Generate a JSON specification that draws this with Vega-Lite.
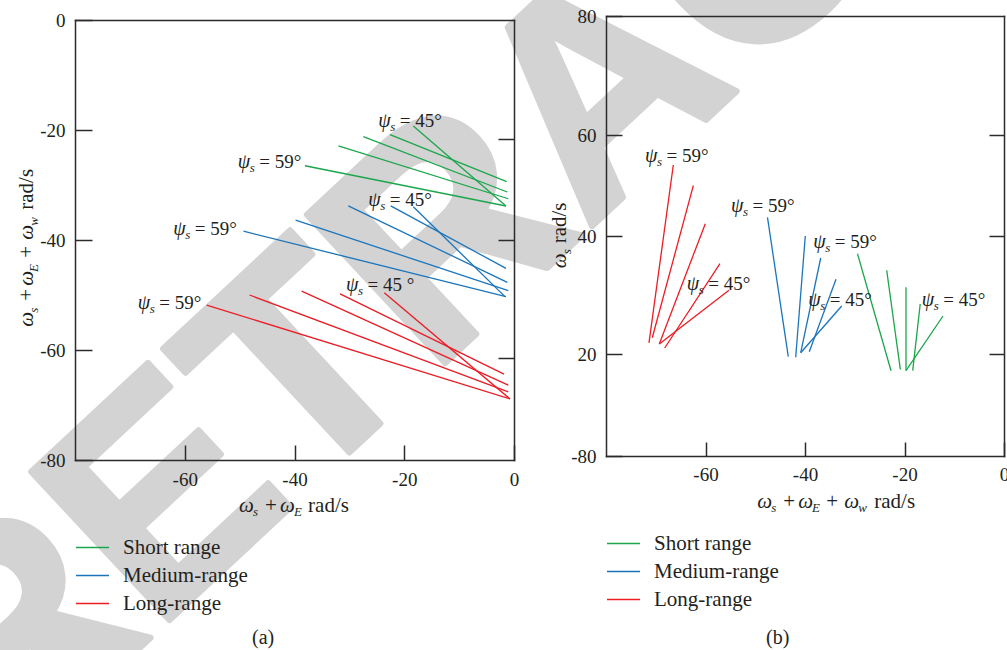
{
  "$schema": "https://vega.github.io/schema/vega-lite/v6.json",
  "autosize": {"type": "none"},
  "padding": {"left": 75, "top": 20, "right": 932, "bottom": 630},
  "background": "#ffffff",
  "bounds": "flush",
  "spacing": 92,
  "config": {
    "view": {"stroke": null},
    "text": {"font": "Liberation Serif", "fontSize": 20, "color": "#231f20", "align": "left", "baseline": "alphabetic"},
    "axis": {
      "zindex": 1, "grid": false,
      "labelFont": "Liberation Serif", "labelFontSize": 19, "labelColor": "#231f20",
      "labelFlush": false, "labelOverlap": false, "labelBound": false,
      "domainColor": "#2b2b2b", "domainWidth": 1.5, "domainCap": "square",
      "tickColor": "#2b2b2b", "tickWidth": 1.5
    }
  },
  "datasets": {
    "one": [{}],
    "linesA": [
      {"range": "Short range", "line": "S45", "x": -18.35, "y": -19.27},
      {"range": "Short range", "line": "S45", "x": -1.46, "y": -33.82},
      {"range": "Short range", "line": "S48", "x": -22.6, "y": -20.85},
      {"range": "Short range", "line": "S48", "x": -1.33, "y": -29.4},
      {"range": "Short range", "line": "S52", "x": -27.46, "y": -21.2},
      {"range": "Short range", "line": "S52", "x": -1.22, "y": -31.27},
      {"range": "Short range", "line": "S55", "x": -32.0, "y": -22.9},
      {"range": "Short range", "line": "S55", "x": -1.04, "y": -32.5},
      {"range": "Short range", "line": "S59", "x": -38.1, "y": -26.5},
      {"range": "Short range", "line": "S59", "x": -1.46, "y": -33.82},
      {"range": "Medium-range", "line": "M45", "x": -18.35, "y": -33.95},
      {"range": "Medium-range", "line": "M45", "x": -1.64, "y": -50.3},
      {"range": "Medium-range", "line": "M48", "x": -22.47, "y": -33.8},
      {"range": "Medium-range", "line": "M48", "x": -1.46, "y": -45.15},
      {"range": "Medium-range", "line": "M52", "x": -30.2, "y": -33.8},
      {"range": "Medium-range", "line": "M52", "x": -1.22, "y": -47.7},
      {"range": "Medium-range", "line": "M55", "x": -39.8, "y": -36.4},
      {"range": "Medium-range", "line": "M55", "x": -1.04, "y": -49.2},
      {"range": "Medium-range", "line": "M59", "x": -49.3, "y": -38.4},
      {"range": "Medium-range", "line": "M59", "x": -1.46, "y": -50.3},
      {"range": "Long-range", "line": "L45", "x": -23.64, "y": -49.6},
      {"range": "Long-range", "line": "L45", "x": -0.73, "y": -68.9},
      {"range": "Long-range", "line": "L48", "x": -31.7, "y": -49.8},
      {"range": "Long-range", "line": "L48", "x": -1.82, "y": -64.4},
      {"range": "Long-range", "line": "L52", "x": -38.7, "y": -49.3},
      {"range": "Long-range", "line": "L52", "x": -1.04, "y": -66.4},
      {"range": "Long-range", "line": "L55", "x": -48.2, "y": -50.0},
      {"range": "Long-range", "line": "L55", "x": -1.04, "y": -67.6},
      {"range": "Long-range", "line": "L59", "x": -56.0, "y": -51.85},
      {"range": "Long-range", "line": "L59", "x": -0.73, "y": -68.9}
    ],
    "linesB": [
      {"range": "Long-range", "line": "L59", "x": -66.47, "y": 54.06},
      {"range": "Long-range", "line": "L59", "x": -71.36, "y": 21.9},
      {"range": "Long-range", "line": "L55", "x": -62.45, "y": 49.96},
      {"range": "Long-range", "line": "L55", "x": -70.7, "y": 22.76},
      {"range": "Long-range", "line": "L52", "x": -60.04, "y": 42.44},
      {"range": "Long-range", "line": "L52", "x": -69.29, "y": 21.69},
      {"range": "Long-range", "line": "L48", "x": -57.09, "y": 35.31},
      {"range": "Long-range", "line": "L48", "x": -68.2, "y": 21.02},
      {"range": "Long-range", "line": "L45", "x": -55.28, "y": 30.8},
      {"range": "Long-range", "line": "L45", "x": -69.29, "y": 21.69},
      {"range": "Medium-range", "line": "M59", "x": -47.54, "y": 43.7},
      {"range": "Medium-range", "line": "M59", "x": -43.36, "y": 17.35},
      {"range": "Medium-range", "line": "M55", "x": -39.94, "y": 40.0},
      {"range": "Medium-range", "line": "M55", "x": -41.87, "y": 16.76},
      {"range": "Medium-range", "line": "M52", "x": -36.84, "y": 36.27},
      {"range": "Medium-range", "line": "M52", "x": -40.86, "y": 20.22},
      {"range": "Medium-range", "line": "M48", "x": -33.77, "y": 32.66},
      {"range": "Medium-range", "line": "M48", "x": -39.14, "y": 20.39},
      {"range": "Medium-range", "line": "M45", "x": -32.62, "y": 28.14},
      {"range": "Medium-range", "line": "M45", "x": -40.86, "y": 20.22},
      {"range": "Short range", "line": "S59", "x": -29.45, "y": 37.0},
      {"range": "Short range", "line": "S59", "x": -22.71, "y": 3.63},
      {"range": "Short range", "line": "S55", "x": -23.58, "y": 34.19},
      {"range": "Short range", "line": "S55", "x": -20.84, "y": 5.0},
      {"range": "Short range", "line": "S52", "x": -19.7, "y": 31.3},
      {"range": "Short range", "line": "S52", "x": -19.7, "y": 3.63},
      {"range": "Short range", "line": "S48", "x": -16.84, "y": 28.47},
      {"range": "Short range", "line": "S48", "x": -18.35, "y": 3.63},
      {"range": "Short range", "line": "S45", "x": -12.26, "y": 26.44},
      {"range": "Short range", "line": "S45", "x": -19.7, "y": 3.63}
    ],
    "annA": [
      {"x": -24.73, "y": -19.45, "label": "= 45°"},
      {"x": -50.35, "y": -26.96, "label": "= 59°"},
      {"x": -26.55, "y": -33.82, "label": "= 45°"},
      {"x": -62.09, "y": -39.09, "label": "= 59°"},
      {"x": -30.62, "y": -49.36, "label": "= 45 °"},
      {"x": -68.57, "y": -52.6, "label": "= 59°"}
    ],
    "annB": [
      {"x": -72.16, "y": 54.71, "label": "= 59°"},
      {"x": -63.78, "y": 30.85, "label": "= 45°"},
      {"x": -54.87, "y": 44.81, "label": "= 59°"},
      {"x": -39.34, "y": 28.14, "label": "= 45°"},
      {"x": -38.33, "y": 37.92, "label": "= 59°"},
      {"x": -16.54, "y": 28.14, "label": "= 45°"}
    ]
  },
  "resolve": {"scale": {"color": "independent"}, "legend": {"color": "independent"}},
  "hconcat": [
    {
      "width": 439,
      "height": 440,
      "resolve": {"axis": {"x": "independent", "y": "independent"}},
      "layer": [
        {
          "data": {"name": "one"},
          "mark": {"type": "text", "text": "RETRACTED", "font": "Liberation Sans", "fontWeight": "bold", "fontSize": 295, "angle": -43, "align": "center", "baseline": "alphabetic", "color": "#d3d3d3", "stroke": "#d3d3d3", "strokeWidth": 6, "strokeJoin": "round"},
          "encoding": {"x": {"datum": 27.43, "axis": null}, "y": {"datum": -25.2, "axis": null}}
        },
        {
          "data": {"name": "linesA"},
          "mark": {"type": "line", "strokeWidth": 1.3},
          "encoding": {
            "x": {"field": "x", "type": "quantitative", "scale": {"domain": [-80, 0], "nice": false, "zero": false},
                  "axis": {"orient": "bottom", "zindex": 2, "values": [-60, -40, -20, 0], "tickSize": -15, "labelPadding": 25, "labelFont": "Liberation Serif", "labelFontSize": 19, "labelExpr": "replace(datum.label, '−', '-')", "title": null}},
            "y": {"field": "y", "type": "quantitative", "scale": {"domain": [-80, 0], "nice": false, "zero": false},
                  "axis": {"orient": "left", "zindex": 2, "values": [0, -20, -40, -60, -80], "tickSize": -17, "labelPadding": 27, "labelFont": "Liberation Serif", "labelFontSize": 19, "labelExpr": "replace(datum.label, '−', '-')", "title": null}},
            "detail": {"field": "line"},
            "color": {
              "field": "range", "type": "nominal",
              "scale": {"domain": ["Short range", "Medium-range", "Long-range"], "range": ["#1aa64a", "#1b75bb", "#ec1c24"]},
              "legend": {"orient": "none", "legendX": 0, "legendY": 510, "title": null, "symbolType": "stroke", "symbolSize": 1089, "symbolStrokeWidth": 1.5, "labelFont": "Liberation Serif", "labelFontSize": 21, "labelColor": "#231f20", "labelOffset": 13, "rowPadding": -9, "padding": 0}
            }
          }
        },
        {
          "data": {"name": "annA"},
          "mark": {"type": "text", "text": "ψ", "fontStyle": "italic", "fontSize": 20},
          "encoding": {"x": {"field": "x", "type": "quantitative", "axis": null}, "y": {"field": "y", "type": "quantitative", "axis": null}}
        },
        {
          "data": {"name": "annA"},
          "mark": {"type": "text", "text": "s", "fontStyle": "italic", "fontSize": 13, "dx": 12, "dy": 4},
          "encoding": {"x": {"field": "x", "type": "quantitative", "axis": null}, "y": {"field": "y", "type": "quantitative", "axis": null}}
        },
        {
          "data": {"name": "annA"},
          "mark": {"type": "text", "fontSize": 19, "dx": 21.5},
          "encoding": {"x": {"field": "x", "type": "quantitative", "axis": null}, "y": {"field": "y", "type": "quantitative", "axis": null}, "text": {"field": "label"}}
        },
        {"data": {"name": "one"}, "mark": {"type": "text", "text": "ω", "fontStyle": "italic", "fontSize": 21, "dx": -55.4, "dy": 51.5}, "encoding": {"x": {"datum": -40, "axis": null}, "y": {"datum": -80, "axis": null}}},
        {"data": {"name": "one"}, "mark": {"type": "text", "text": "s", "fontStyle": "italic", "fontSize": 13, "dx": -41.4, "dy": 56}, "encoding": {"x": {"datum": -40, "axis": null}, "y": {"datum": -80, "axis": null}}},
        {"data": {"name": "one"}, "mark": {"type": "text", "text": "+", "fontSize": 21, "dx": -29.4, "dy": 51.5}, "encoding": {"x": {"datum": -40, "axis": null}, "y": {"datum": -80, "axis": null}}},
        {"data": {"name": "one"}, "mark": {"type": "text", "text": "ω", "fontStyle": "italic", "fontSize": 21, "dx": -14.4, "dy": 51.5}, "encoding": {"x": {"datum": -40, "axis": null}, "y": {"datum": -80, "axis": null}}},
        {"data": {"name": "one"}, "mark": {"type": "text", "text": "E", "fontStyle": "italic", "fontSize": 13, "dx": -0.6, "dy": 56}, "encoding": {"x": {"datum": -40, "axis": null}, "y": {"datum": -80, "axis": null}}},
        {"data": {"name": "one"}, "mark": {"type": "text", "text": "rad/s", "fontSize": 21, "dx": 13.6, "dy": 51.5}, "encoding": {"x": {"datum": -40, "axis": null}, "y": {"datum": -80, "axis": null}}},
        {"data": {"name": "one"}, "mark": {"type": "text", "text": "ω", "fontStyle": "italic", "fontSize": 21, "angle": 270, "dx": -86.7, "dy": -42}, "encoding": {"x": {"datum": -80, "axis": null}, "y": {"datum": -40, "axis": null}}},
        {"data": {"name": "one"}, "mark": {"type": "text", "text": "s", "fontStyle": "italic", "fontSize": 13, "angle": 270, "dx": -72.7, "dy": -37.5}, "encoding": {"x": {"datum": -80, "axis": null}, "y": {"datum": -40, "axis": null}}},
        {"data": {"name": "one"}, "mark": {"type": "text", "text": "+", "fontSize": 21, "angle": 270, "dx": -60.7, "dy": -42}, "encoding": {"x": {"datum": -80, "axis": null}, "y": {"datum": -40, "axis": null}}},
        {"data": {"name": "one"}, "mark": {"type": "text", "text": "ω", "fontStyle": "italic", "fontSize": 21, "angle": 270, "dx": -45.7, "dy": -42}, "encoding": {"x": {"datum": -80, "axis": null}, "y": {"datum": -40, "axis": null}}},
        {"data": {"name": "one"}, "mark": {"type": "text", "text": "E", "fontStyle": "italic", "fontSize": 13, "angle": 270, "dx": -31.9, "dy": -37.5}, "encoding": {"x": {"datum": -80, "axis": null}, "y": {"datum": -40, "axis": null}}},
        {"data": {"name": "one"}, "mark": {"type": "text", "text": "+", "fontSize": 21, "angle": 270, "dx": -17.7, "dy": -42}, "encoding": {"x": {"datum": -80, "axis": null}, "y": {"datum": -40, "axis": null}}},
        {"data": {"name": "one"}, "mark": {"type": "text", "text": "ω", "fontStyle": "italic", "fontSize": 21, "angle": 270, "dx": 0.3, "dy": -42}, "encoding": {"x": {"datum": -80, "axis": null}, "y": {"datum": -40, "axis": null}}},
        {"data": {"name": "one"}, "mark": {"type": "text", "text": "w", "fontStyle": "italic", "fontSize": 13, "angle": 270, "dx": 14.3, "dy": -37.5}, "encoding": {"x": {"datum": -80, "axis": null}, "y": {"datum": -40, "axis": null}}},
        {"data": {"name": "one"}, "mark": {"type": "text", "text": "rad/s", "fontSize": 21, "angle": 270, "dx": 30.3, "dy": -42}, "encoding": {"x": {"datum": -80, "axis": null}, "y": {"datum": -40, "axis": null}}},
        {
          "data": {"name": "one"},
          "mark": {"type": "text", "text": "(a)", "align": "center", "baseline": "middle", "dx": -31.4, "dy": 178},
          "encoding": {
            "x": {"datum": -40, "axis": {"orient": "top", "zindex": 2, "labels": false, "ticks": false, "title": null}},
            "y": {"datum": -80, "axis": {"orient": "right", "zindex": 2, "values": [-21.6, -40, -61.5], "labels": false, "tickSize": -16, "title": null}}
          }
        }
      ]
    },
    {
      "width": 398,
      "height": 436,
      "resolve": {"axis": {"x": "independent", "y": "independent"}},
      "layer": [
        {
          "data": {"name": "linesB"},
          "mark": {"type": "line", "strokeWidth": 1.3},
          "encoding": {
            "x": {"field": "x", "type": "quantitative", "scale": {"domain": [-80, 0], "nice": false, "zero": false},
                  "axis": {"orient": "bottom", "zindex": 2, "values": [-60, -40, -20, 0], "tickSize": -14, "labelPadding": 23.5, "labelFont": "Liberation Serif", "labelFontSize": 19, "labelExpr": "replace(datum.label, '−', '-')", "title": null}},
            "y": {"field": "y", "type": "quantitative", "scale": {"domain": [-80, 20, 40, 60, 80], "range": [436, 334, 216, 115, -4], "nice": false, "zero": false},
                  "axis": {"orient": "left", "zindex": 2, "values": [80, 60, 40, 20, -80], "tickSize": -16, "labelPadding": 26, "labelFont": "Liberation Serif", "labelFontSize": 19, "labelExpr": "replace(datum.label, '−', '-')", "title": null}},
            "detail": {"field": "line"},
            "color": {
              "field": "range", "type": "nominal",
              "scale": {"domain": ["Short range", "Medium-range", "Long-range"], "range": ["#1aa64a", "#1b75bb", "#ec1c24"]},
              "legend": {"orient": "none", "legendX": 0, "legendY": 506, "title": null, "symbolType": "stroke", "symbolSize": 1089, "symbolStrokeWidth": 1.5, "labelFont": "Liberation Serif", "labelFontSize": 21, "labelColor": "#231f20", "labelOffset": 13, "rowPadding": -9, "padding": 0}
            }
          }
        },
        {
          "data": {"name": "annB"},
          "mark": {"type": "text", "text": "ψ", "fontStyle": "italic", "fontSize": 20},
          "encoding": {"x": {"field": "x", "type": "quantitative", "axis": null}, "y": {"field": "y", "type": "quantitative", "axis": null}}
        },
        {
          "data": {"name": "annB"},
          "mark": {"type": "text", "text": "s", "fontStyle": "italic", "fontSize": 13, "dx": 12, "dy": 4},
          "encoding": {"x": {"field": "x", "type": "quantitative", "axis": null}, "y": {"field": "y", "type": "quantitative", "axis": null}}
        },
        {
          "data": {"name": "annB"},
          "mark": {"type": "text", "fontSize": 19, "dx": 21.5},
          "encoding": {"x": {"field": "x", "type": "quantitative", "axis": null}, "y": {"field": "y", "type": "quantitative", "axis": null}, "text": {"field": "label"}}
        },
        {"data": {"name": "one"}, "mark": {"type": "text", "text": "ω", "fontStyle": "italic", "fontSize": 21, "dx": -47.7, "dy": 51.5}, "encoding": {"x": {"datum": -40, "axis": null}, "y": {"datum": -80, "axis": null}}},
        {"data": {"name": "one"}, "mark": {"type": "text", "text": "s", "fontStyle": "italic", "fontSize": 13, "dx": -33.7, "dy": 56}, "encoding": {"x": {"datum": -40, "axis": null}, "y": {"datum": -80, "axis": null}}},
        {"data": {"name": "one"}, "mark": {"type": "text", "text": "+", "fontSize": 21, "dx": -21.7, "dy": 51.5}, "encoding": {"x": {"datum": -40, "axis": null}, "y": {"datum": -80, "axis": null}}},
        {"data": {"name": "one"}, "mark": {"type": "text", "text": "ω", "fontStyle": "italic", "fontSize": 21, "dx": -6.7, "dy": 51.5}, "encoding": {"x": {"datum": -40, "axis": null}, "y": {"datum": -80, "axis": null}}},
        {"data": {"name": "one"}, "mark": {"type": "text", "text": "E", "fontStyle": "italic", "fontSize": 13, "dx": 7.1, "dy": 56}, "encoding": {"x": {"datum": -40, "axis": null}, "y": {"datum": -80, "axis": null}}},
        {"data": {"name": "one"}, "mark": {"type": "text", "text": "+", "fontSize": 21, "dx": 21.3, "dy": 51.5}, "encoding": {"x": {"datum": -40, "axis": null}, "y": {"datum": -80, "axis": null}}},
        {"data": {"name": "one"}, "mark": {"type": "text", "text": "ω", "fontStyle": "italic", "fontSize": 21, "dx": 39.3, "dy": 51.5}, "encoding": {"x": {"datum": -40, "axis": null}, "y": {"datum": -80, "axis": null}}},
        {"data": {"name": "one"}, "mark": {"type": "text", "text": "w", "fontStyle": "italic", "fontSize": 13, "dx": 53.3, "dy": 56}, "encoding": {"x": {"datum": -40, "axis": null}, "y": {"datum": -80, "axis": null}}},
        {"data": {"name": "one"}, "mark": {"type": "text", "text": "rad/s", "fontSize": 21, "dx": 69.3, "dy": 51.5}, "encoding": {"x": {"datum": -40, "axis": null}, "y": {"datum": -80, "axis": null}}},
        {"data": {"name": "one"}, "mark": {"type": "text", "text": "ω", "fontStyle": "italic", "fontSize": 21, "angle": 270, "dx": -32.3, "dy": -40}, "encoding": {"x": {"datum": -80, "axis": null}, "y": {"datum": 40, "axis": null}}},
        {"data": {"name": "one"}, "mark": {"type": "text", "text": "s", "fontStyle": "italic", "fontSize": 13, "angle": 270, "dx": -18.3, "dy": -35.5}, "encoding": {"x": {"datum": -80, "axis": null}, "y": {"datum": 40, "axis": null}}},
        {"data": {"name": "one"}, "mark": {"type": "text", "text": "rad/s", "fontSize": 21, "angle": 270, "dx": -7.3, "dy": -40}, "encoding": {"x": {"datum": -80, "axis": null}, "y": {"datum": 40, "axis": null}}},
        {
          "data": {"name": "one"},
          "mark": {"type": "text", "text": "(b)", "align": "center", "baseline": "middle", "dx": -27.3, "dy": 182},
          "encoding": {
            "x": {"datum": -40, "axis": {"orient": "top", "zindex": 2, "offset": 4, "labels": false, "ticks": false, "title": null}},
            "y": {"datum": -80, "axis": {"orient": "right", "zindex": 2, "values": [20, 40, 60], "labels": false, "tickSize": -15, "title": null}}
          }
        }
      ]
    }
  ]
}
